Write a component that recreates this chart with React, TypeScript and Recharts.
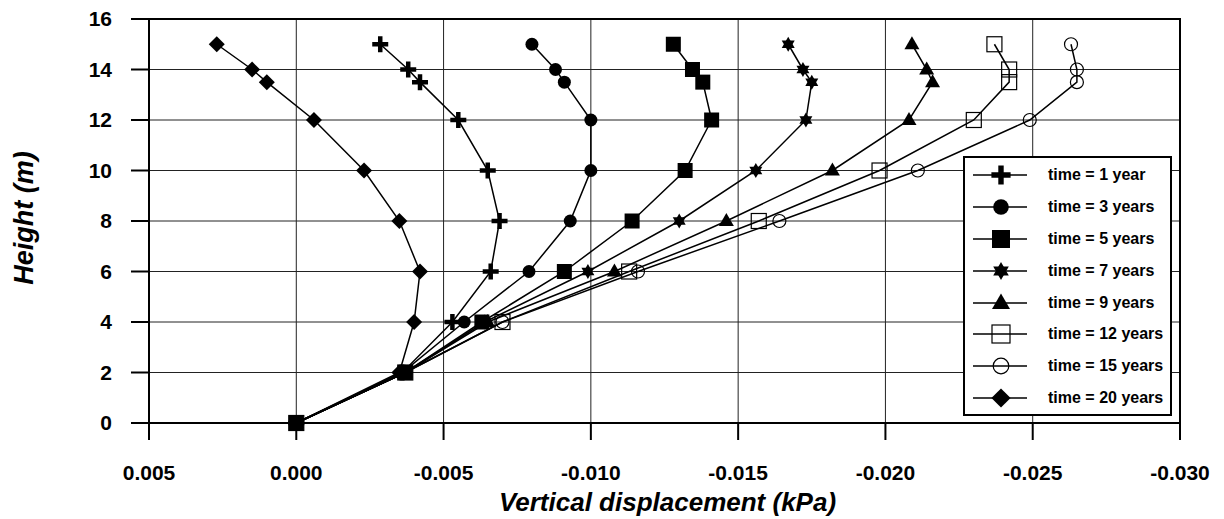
import React from 'react';
import { ScatterChart, Scatter, XAxis, YAxis, CartesianGrid, Legend, ReferenceArea } from 'recharts';

// heights (m) at which displacements were read
const HEIGHTS = [0, 2, 4, 6, 8, 10, 12, 13.5, 14, 15];

// vertical displacement for each time step, same order as HEIGHTS
const TIME_1 = [0, -0.0036, -0.0053, -0.0066, -0.0069, -0.0065, -0.0055, -0.0042, -0.0038, -0.00285];
const TIME_3 = [0, -0.0036, -0.0057, -0.0079, -0.0093, -0.0100, -0.0100, -0.0091, -0.0088, -0.0080];
const TIME_5 = [0, -0.0037, -0.0063, -0.0091, -0.0114, -0.0132, -0.0141, -0.0138, -0.01345, -0.0128];
const TIME_7 = [0, -0.0037, -0.0064, -0.0099, -0.0130, -0.0156, -0.0173, -0.0175, -0.0172, -0.0167];
const TIME_9 = [0, -0.0037, -0.0065, -0.0108, -0.0146, -0.0182, -0.0208, -0.0216, -0.0214, -0.0209];
const TIME_12 = [0, -0.0037, -0.0070, -0.0113, -0.0157, -0.0198, -0.0230, -0.0242, -0.0242, -0.0237];
const TIME_15 = [0, -0.0037, -0.0070, -0.0116, -0.0164, -0.0211, -0.0249, -0.0265, -0.0265, -0.0263];
const TIME_20 = [0, -0.0035, -0.0040, -0.0042, -0.0035, -0.0023, -0.0006, 0.0010, 0.0015, 0.0027];

const X_TICKS = [0.005, 0, -0.005, -0.01, -0.015, -0.02, -0.025, -0.03];
const Y_TICKS = [0, 2, 4, 6, 8, 10, 12, 14, 16];

const SERIES = [
  { name: 'time = 1 year', values: TIME_1, marker: 'plus' },
  { name: 'time = 3 years', values: TIME_3, marker: 'circle' },
  { name: 'time = 5 years', values: TIME_5, marker: 'square' },
  { name: 'time = 7 years', values: TIME_7, marker: 'star' },
  { name: 'time = 9 years', values: TIME_9, marker: 'triangle' },
  { name: 'time = 12 years', values: TIME_12, marker: 'openSquare' },
  { name: 'time = 15 years', values: TIME_15, marker: 'openCircle' },
  { name: 'time = 20 years', values: TIME_20, marker: 'diamond' },
];

const FONT = '"Liberation Sans", Arial, Helvetica, sans-serif';

const Marker = ({ kind, cx, cy, s = 1 }: { kind: string; cx: number; cy: number; s?: number }) => {
  if (cx == null || cy == null) return null;
  switch (kind) {
    case 'plus':
      return (
        <path
          d={`M${cx - 8 * s},${cy}H${cx + 8 * s}M${cx},${cy - 8 * s}V${cy + 8 * s}`}
          stroke="#000"
          strokeWidth={4.5 * s}
        />
      );
    case 'circle':
      return <circle cx={cx} cy={cy} r={6.5 * s} fill="#000" />;
    case 'square':
      return <rect x={cx - 7.5 * s} y={cy - 7.5 * s} width={15 * s} height={15 * s} fill="#000" />;
    case 'star': {
      const r = 7.5 * s;
      const up = [0, 1, 2].map((i) => {
        const a = -Math.PI / 2 + (i * 2 * Math.PI) / 3;
        return `${cx + r * Math.cos(a)},${cy + r * Math.sin(a)}`;
      });
      const down = [0, 1, 2].map((i) => {
        const a = Math.PI / 2 + (i * 2 * Math.PI) / 3;
        return `${cx + r * Math.cos(a)},${cy + r * Math.sin(a)}`;
      });
      return (
        <g fill="#000">
          <polygon points={up.join(' ')} />
          <polygon points={down.join(' ')} />
        </g>
      );
    }
    case 'triangle':
      return (
        <polygon
          points={`${cx},${cy - 8 * s} ${cx + 7.5 * s},${cy + 5 * s} ${cx - 7.5 * s},${cy + 5 * s}`}
          fill="#000"
        />
      );
    case 'openSquare':
      return (
        <rect
          x={cx - 7.5 * s}
          y={cy - 7.5 * s}
          width={15 * s}
          height={15 * s}
          fill="none"
          stroke="#000"
          strokeWidth={1.2}
        />
      );
    case 'openCircle':
      return <circle cx={cx} cy={cy} r={6.5 * s} fill="none" stroke="#000" strokeWidth={1.2} />;
    case 'diamond':
      return (
        <polygon
          points={`${cx},${cy - 8 * s} ${cx + 8 * s},${cy} ${cx},${cy + 8 * s} ${cx - 8 * s},${cy}`}
          fill="#000"
        />
      );
    default:
      return null;
  }
};

const LegendBox = () => (
  <div
    style={{
      width: 205,
      height: 255,
      border: '2px solid #000',
      background: '#fff',
      fontFamily: FONT,
      fontWeight: 'bold',
      fontSize: 16,
      color: '#000',
      paddingTop: 1,
    }}
  >
    {SERIES.map((s) => (
      <div key={s.name} style={{ display: 'flex', alignItems: 'center', height: 31.9 }}>
        <svg width={80} height={30} style={{ flex: 'none' }}>
          <line x1={8} x2={62} y1={15} y2={15} stroke="#000" strokeWidth={1.5} />
          <Marker kind={s.marker} cx={36} cy={15} s={1.2} />
        </svg>
        <span style={{ marginLeft: 3 }}>{s.name}</span>
      </div>
    ))}
  </div>
);

const YTitle = (props: any) => {
  const { viewBox } = props;
  const x = viewBox.x + 16;
  const y = viewBox.y + viewBox.height / 2 - 3;
  return (
    <text
      x={x}
      y={y}
      transform={`rotate(-90, ${x}, ${y})`}
      textAnchor="middle"
      dominantBaseline="central"
      fontFamily={FONT}
      fontWeight="bold"
      fontStyle="italic"
      fontSize={27}
      fill="#000"
    >
      Height (m)
    </text>
  );
};

const XTitle = (props: any) => {
  const { viewBox } = props;
  return (
    <text
      x={viewBox.x + viewBox.width / 2 + 3}
      y={viewBox.y + 88}
      textAnchor="middle"
      fontFamily={FONT}
      fontWeight="bold"
      fontStyle="italic"
      fontSize={26}
      fill="#000"
    >
      Vertical displacement (kPa)
    </text>
  );
};

const tickStyle = { fill: '#000', fontSize: 21, fontWeight: 'bold', fontFamily: FONT };

export default function App() {
  return (
    <ScatterChart width={1216} height={511} margin={{ top: 11, right: 44, bottom: 6, left: 0 }}>
      <CartesianGrid stroke="#222" strokeWidth={1} />
      <XAxis
        type="number"
        dataKey="x"
        domain={[-0.03, 0.005]}
        reversed
        ticks={X_TICKS}
        interval={0}
        tickFormatter={(v: number) => v.toFixed(3)}
        height={90}
        tickSize={17}
        tickMargin={25}
        axisLine={{ stroke: '#000', strokeWidth: 2 }}
        tickLine={{ stroke: '#000', strokeWidth: 2 }}
        tick={tickStyle}
        label={XTitle}
      />
      <YAxis
        type="number"
        dataKey="y"
        domain={[0, 16]}
        ticks={Y_TICKS}
        interval={0}
        width={141}
        tickSize={18}
        tickMargin={19}
        axisLine={{ stroke: '#000', strokeWidth: 2 }}
        tickLine={{ stroke: '#000', strokeWidth: 2 }}
        tick={tickStyle}
        label={YTitle}
      />
      <ReferenceArea
        x1={-0.03}
        x2={0.005}
        y1={0}
        y2={16}
        fill="none"
        stroke="#000"
        strokeWidth={2}
        ifOverflow="visible"
      />
      {SERIES.map((s) => (
        <Scatter
          key={s.name}
          name={s.name}
          data={HEIGHTS.map((h, i) => ({ x: s.values[i], y: h }))}
          line={{ stroke: '#000', strokeWidth: 1.5 }}
          lineType="joint"
          shape={(p: any) => <Marker kind={s.marker} cx={p.cx} cy={p.cy} />}
          isAnimationActive={false}
        />
      ))}
      <Legend
        layout="vertical"
        align="center"
        verticalAlign="middle"
        content={LegendBox}
        wrapperStyle={{ left: 955, top: 148, width: 209, height: 259 }}
      />
    </ScatterChart>
  );
}
